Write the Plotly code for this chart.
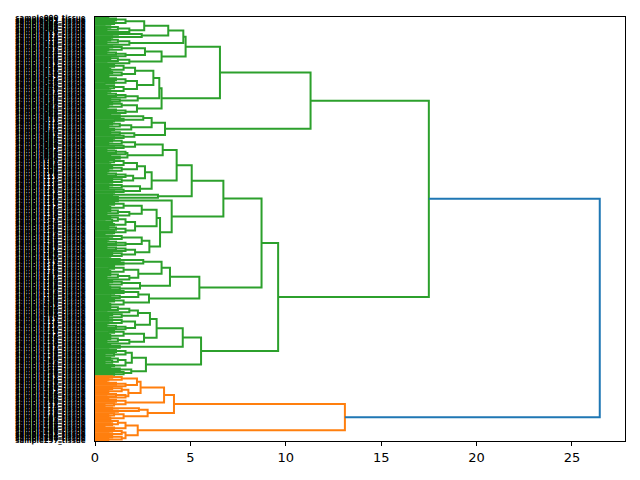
import plotly.graph_objects as go

# leaf-level twigs: [merge height, upper, lower], 0 = a single leaf
t2a = [0.9, 0, 0]
t2b = [1.2, 0, 0]
t3a = [1.3, [0.8, 0, 0], 0]
t3b = [1.5, 0, [1.0, 0, 0]]
t4a = [1.4, [0.9, 0, 0], [0.7, 0, 0]]
t4b = [1.6, [1.1, [0.6, 0, 0], 0], 0]
t5a = [1.5, [1.0, 0, [0.7, 0, 0]], [0.8, 0, 0]]
t5b = [1.8, [1.2, [0.8, 0, 0], [0.6, 0, 0]], 0]
t6a = [1.6, [1.1, [0.7, 0, 0], 0], [1.0, 0, [0.5, 0, 0]]]
t6b = [1.9, [1.3, [0.9, 0, 0], [0.7, 0, 0]], [1.0, 0, 0]]
t7 = [1.6, [1.2, [0.8, 0, 0], [0.9, 0, [0.5, 0, 0]]], [1.0, 0, 0]]

# upper green block
x1 = [3.84, [2.58, t6a, t5b], [2.45, t2b, t2a]]
na = [4.75, [4.63, x1, t5b], [3.49, [2.62, t4a, t4b], t5b]]
g1a_low = [3.49, [3.37, [3.06, [2.1, t5a, t4a], [2.2, t6a, t5a]], [2.24, t4b, t3a]], [2.2, t4a, t4b]]
g1b = [3.67, [2.97, [2.53, t3a, t3b], t6b], [2.06, t3a, t3b]]
g1 = [11.3, [6.55, na, g1a_low], g1b]

# middle green block
n355 = [3.55, [2.1, t4a, t3b], [1.7, t4b, t3a]]
n297 = [2.97, [2.62, [2.2, t5a, t4a], [2.0, t4b, t4a]], [2.36, t4a, t3b]]
n507 = [5.07, [4.28, n355, n297], [3.3, t2a, t2b]]
n341 = [3.41, [3.23, [2.45, t5a, t5b], [2.1, t7, t6a]], [2.85, [2.45, t4a, t4b], [2.1, t4b, t4a]]]
g2a_up = [6.73, n507, [4.02, t2b, n341]]
n393 = [3.93, [3.49, [2.53, t3a, t3b], [2.27, t5a, t5b]], [2.36, t4a, t3a]]
g2a_low = [5.47, n393, [2.83, [2.27, t3b, t3a], t5a]]

# lower green block
n323 = [3.23, [2.88, [2.25, t5b, t4a], [2.1, t4a, t4b]], [2.57, t5a, t5b]]
g2b = [5.56, [4.6, n323, t3a], [2.67, [1.93, t6a, t7], [1.9, t3a, t3b]]]
g2 = [9.6, [8.73, g2a_up, g2a_low], g2b]

# orange block
o1 = [4.14, [3.62, [2.39, [2.2, t4a, t4b], [1.75, t4a, t4b]], t6a], [2.76, [2.3, t2a, t2b], t5a]]
o2 = [2.24, t7, [1.6, t4a, t4a]]

tree = [26.46, [17.5, g1, g2], [13.1, o1, o2]]
cluster_colors = ["#2ca02c", "#ff7f0e"]
above_color = "#1f77b4"

leaf_pos = []
segs = {}


def place(node, col):
    if node == 0:
        y = 5 + 10 * len(leaf_pos)
        leaf_pos.append(y)
        return 0.0, y
    h, a, b = node
    if col is None:
        ca, cb = cluster_colors
    else:
        ca = cb = col
    ha, ya = place(a, ca)
    hb, yb = place(b, cb)
    xs, ys = segs.setdefault(col or above_color, ([], []))
    xs += [ha, h, h, hb, None]
    ys += [ya, ya, yb, yb, None]
    return h, (ya + yb) / 2


place(tree, None)
n = len(leaf_pos)
leaf_labels = ["sample%03d_tissue" % i for i in range(n)]

fig = go.Figure()
for col, (xs, ys) in segs.items():
    fig.add_trace(go.Scatter(x=xs, y=ys, mode="lines", line=dict(color=col, width=2),
                             hoverinfo="skip", showlegend=False))

# the page puts the figure 8px in from the corner
fig.update_layout(
    width=632, height=472,
    margin=dict(l=87, r=15, t=9, b=39),
    paper_bgcolor="white", plot_bgcolor="white",
    font=dict(family="DejaVu Sans", color="black"),
    xaxis=dict(range=[0, tree[0] * 1.05], tickvals=[0, 5, 10, 15, 20, 25],
               ticks="outside", ticklen=4, tickcolor="black", tickfont=dict(size=13),
               showline=True, linecolor="black", linewidth=1, mirror=True,
               showgrid=False, zeroline=False),
    yaxis=dict(range=[10 * n, 0], tickmode="array", tickvals=leaf_pos, ticktext=leaf_labels,
               ticks="outside", ticklen=7, tickcolor="rgba(0,0,0,0)",
               tickfont=dict(size=7, color="black", weight="bold"),
               showline=True, linecolor="black", linewidth=1, mirror=True,
               showgrid=False, zeroline=False, automargin=False),
)

fig.write_html("out.html")
